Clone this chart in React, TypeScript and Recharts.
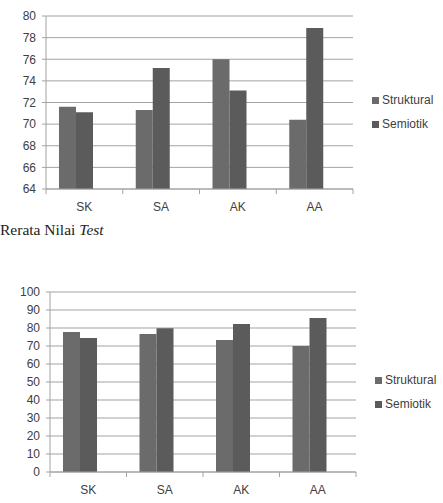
import React from "react";
import { BarChart, Bar, XAxis, YAxis, CartesianGrid, Rectangle } from "recharts";

const categories = ["SK", "SA", "AK", "AA"];
const seriesNames = ["Struktural", "Semiotik"];
const seriesColors = ["#6b6b6b", "#5b5b5b"];

// top chart: rerata nilai test
const testStruktural = [71.6, 71.3, 76.0, 70.4];
const testSemiotik = [71.1, 75.2, 73.1, 78.9];
const testTicks = [64, 66, 68, 70, 72, 74, 76, 78, 80];

// bottom chart
const postStruktural = [77.8, 76.7, 73.3, 70.0];
const postSemiotik = [74.5, 79.8, 82.2, 85.6];
const postTicks = [0, 10, 20, 30, 40, 50, 60, 70, 80, 90, 100];

const font = "'Liberation Sans', Arial, sans-serif";
const textColor = "#404040";
const lineColor = "#a3a3a3";

function buildRows(a: number[], b: number[]) {
  return categories.map((c, i) => ({ name: c, Struktural: a[i], Semiotik: b[i] }));
}

const CategoryTick = (props: any) => {
  const { x, y, payload, index, band } = props;
  const left = x - band / 2;
  const right = x + band / 2;
  return (
    <g>
      <line x1={left} x2={left} y1={y} y2={y + 5} stroke={lineColor} />
      {index === categories.length - 1 && (
        <line x1={right} x2={right} y1={y} y2={y + 5} stroke={lineColor} />
      )}
      <text x={x} y={y + 18} dy="0.35em" textAnchor="middle" fontSize={12} fill={textColor} fontFamily={font}>
        {payload.value}
      </text>
    </g>
  );
};

// bars sit a little left of the category centre in the original
const shifted = (p: any) => <Rectangle {...p} x={p.x - 8} />;

function LegendBox({ left, top }: { left: number; top: number }) {
  return (
    <div style={{ position: "absolute", left, top, fontFamily: font, fontSize: 12, color: textColor }}>
      {seriesNames.map((n, i) => (
        <div key={n} style={{ display: "flex", alignItems: "center", height: 24 }}>
          <span style={{ width: 7, height: 7, background: seriesColors[i], marginRight: 3, display: "inline-block" }} />
          <span>{n}</span>
        </div>
      ))}
    </div>
  );
}

function Chart(props: {
  data: any[];
  ticks: number[];
  height: number;
  margin: any;
  yWidth: number;
}) {
  const { data, ticks, height, margin, yWidth } = props;
  const plotWidth = 443 - margin.left - margin.right - yWidth;
  const band = plotWidth / categories.length;
  return (
    <BarChart width={443} height={height} data={data} margin={margin} barGap={0} barSize={17}>
      <CartesianGrid vertical={false} stroke={lineColor} />
      <XAxis
        dataKey="name"
        height={30}
        stroke={lineColor}
        tickLine={false}
        tickSize={0}
        tickMargin={0}
        interval={0}
        tick={(p: any) => <CategoryTick {...p} band={band} />}
      />
      <YAxis
        width={yWidth}
        domain={[ticks[0], ticks[ticks.length - 1]]}
        ticks={ticks}
        interval={0}
        stroke={lineColor}
        tickSize={4}
        tickMargin={6}
        tick={{ fill: textColor, fontSize: 12, fontFamily: font }}
        allowDataOverflow
      />
      {seriesNames.map((n, i) => (
        <Bar key={n} dataKey={n} fill={seriesColors[i]} isAnimationActive={false} shape={shifted} />
      ))}
    </BarChart>
  );
}

export default function App() {
  return (
    <div style={{ position: "fixed", left: 0, top: 0, width: 443, height: 503, background: "#fff", overflow: "hidden" }}>
      <div style={{ position: "absolute", left: 0, top: 0 }}>
        <Chart
          data={buildRows(testStruktural, testSemiotik)}
          ticks={testTicks}
          height={225}
          margin={{ top: 16, right: 90, bottom: 6, left: 6 }}
          yWidth={40}
        />
      </div>
      <LegendBox left={372} top={88} />
      <div
        style={{
          position: "absolute",
          left: 0,
          top: 221,
          fontFamily: "'Liberation Serif', 'Times New Roman', serif",
          fontSize: 15.5,
          color: "#222",
          whiteSpace: "nowrap",
        }}
      >
        Rerata Nilai <i>Test</i>
      </div>
      <div style={{ position: "absolute", left: 0, top: 240 }}>
        <Chart
          data={buildRows(postStruktural, postSemiotik)}
          ticks={postTicks}
          height={263}
          margin={{ top: 52, right: 87, bottom: 1, left: 6 }}
          yWidth={44}
        />
      </div>
      <LegendBox left={375} top={368} />
    </div>
  );
}
